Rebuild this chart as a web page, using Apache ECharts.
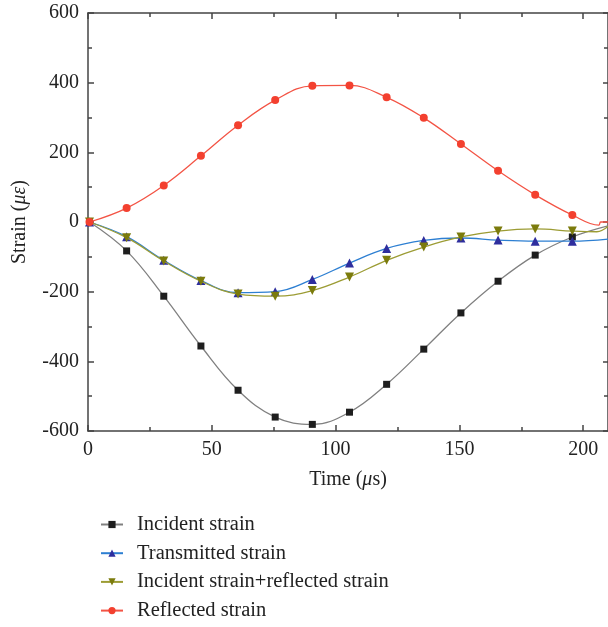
<!DOCTYPE html>
<html><head><meta charset="utf-8">
<script src="https://cdn.jsdelivr.net/npm/echarts@6/dist/echarts.min.js"></script>
<style>html,body{margin:0;padding:0;background:#fff}#c{width:608px;height:627px}</style>
</head><body><div id="c"></div>
<script>
const times = [0.6, 15.6, 30.6, 45.6, 60.6, 75.6, 90.6, 105.6, 120.6, 135.6, 150.6, 165.6, 180.6, 195.6];
const incident = [0, -83, -213, -356, -483, -560, -581, -546, -466, -365, -261, -170, -95, -43];
const transmitted = [0, -42, -110, -168, -203, -200, -165, -118, -76, -53, -46, -52, -55, -55];
const incRef = [0, -45, -112, -170, -207, -213, -197, -158, -110, -72, -43, -26, -20, -26];
const reflected = [0, 40, 105, 190, 278, 350, 391, 392, 358, 299, 224, 147, 78, 20];
// tail segments beyond last marker (no marker drawn)
const incidentTail = [[210, -11]];
const transmittedTail = [[210, -49]];
const incRefTail = [[205.5, -28], [210, -13]];
const reflectedTail = [[206.3, -9], [207, 0], [210, 0]];
const xMajor = [0, 50, 100, 150, 200];
const xMinor = [25, 75, 125, 175];
const names = ['Incident strain', 'Transmitted strain', 'Incident strain+reflected strain', 'Reflected strain'];

function build(vals, tail) {
  const d = times.map((t, i) => [t, vals[i]]);
  tail.forEach(p => d.push({ value: p, symbol: 'none' }));
  return d;
}
const font = 'Liberation Serif';
const fs = 20;
const axisCol = '#444';
const chart = echarts.init(document.getElementById('c'));
const baseX = { type: 'value', min: 0, max: 210, splitLine: { show: false } };
const baseY = { type: 'value', min: -600, max: 600, interval: 200, splitLine: { show: false } };
const tickStyle = { color: axisCol, width: 1.5 };
chart.setOption({
  animation: false,
  grid: { left: 88, right: -1, top: 13, bottom: 196, containLabel: false },
  legend: {
    orient: 'vertical', left: 100, top: 514, height: 113, padding: 0,
    itemWidth: 22, itemHeight: 9, itemGap: 7.7,
    textStyle: { fontFamily: font, fontSize: 20.5, color: '#222', lineHeight: 20, padding: [0, 0, 0, 9] },
    data: names
  },
  xAxis: [
    Object.assign({}, baseX, {
      position: 'bottom',
      axisLine: { show: true, onZero: false, lineStyle: tickStyle },
      axisTick: { show: true, inside: true, length: 6, customValues: xMajor, lineStyle: tickStyle },
      axisLabel: { customValues: xMajor, fontFamily: font, fontSize: fs, color: '#222', margin: 9 },
      name: 'Time ({i|μ}s)', nameLocation: 'middle', nameGap: 39,
      nameTextStyle: { fontFamily: font, fontSize: fs, color: '#222', rich: { i: { fontFamily: font, fontStyle: 'italic', fontSize: fs, color: '#222' } } }
    }),
    Object.assign({}, baseX, {
      position: 'bottom', axisLine: { show: false, onZero: false },
      axisTick: { show: true, inside: true, length: 4, customValues: xMinor, lineStyle: tickStyle },
      axisLabel: { show: false }
    }),
    Object.assign({}, baseX, {
      position: 'top',
      axisLine: { show: true, onZero: false, lineStyle: tickStyle },
      axisTick: { show: true, inside: true, length: 6, customValues: xMajor, lineStyle: tickStyle },
      axisLabel: { show: false }
    }),
    Object.assign({}, baseX, {
      position: 'top', axisLine: { show: false, onZero: false },
      axisTick: { show: true, inside: true, length: 4, customValues: xMinor, lineStyle: tickStyle },
      axisLabel: { show: false }
    })
  ],
  yAxis: [
    Object.assign({}, baseY, {
      position: 'left',
      axisLine: { show: true, onZero: false, lineStyle: tickStyle },
      axisTick: { show: true, inside: true, length: 6, lineStyle: tickStyle },
      minorTick: { show: true, splitNumber: 2, length: 4, lineStyle: tickStyle },
      axisLabel: { fontFamily: font, fontSize: fs, color: '#222', margin: 9 },
      name: 'Strain ({i|με})', nameLocation: 'middle', nameGap: 58, nameRotate: 90,
      nameTextStyle: { fontFamily: font, fontSize: fs, color: '#222', rich: { i: { fontFamily: font, fontStyle: 'italic', fontSize: fs, color: '#222' } } }
    }),
    Object.assign({}, baseY, {
      position: 'right',
      axisLine: { show: true, onZero: false, lineStyle: tickStyle },
      axisTick: { show: true, inside: true, length: 5, lineStyle: tickStyle },
      minorTick: { show: true, splitNumber: 2, length: 4, lineStyle: tickStyle },
      axisLabel: { show: false }
    })
  ],
  series: [
    { name: names[0], type: 'line', smooth: 0.4, data: build(incident, incidentTail), symbol: 'rect', symbolSize: 7,
      itemStyle: { color: '#1e1e1e' }, lineStyle: { color: '#808080', width: 1.3 }, z: 2 },
    { name: names[1], type: 'line', smooth: 0.4, data: build(transmitted, transmittedTail), symbol: 'triangle', symbolSize: 9,
      itemStyle: { color: '#2e2e9e' }, lineStyle: { color: '#2d7fd2', width: 1.3 }, z: 3 },
    { name: names[2], type: 'line', smooth: 0.4, data: build(incRef, incRefTail), symbol: 'triangle', symbolRotate: 180, symbolSize: 9,
      itemStyle: { color: '#7b7b0c' }, lineStyle: { color: '#9c9c34', width: 1.3 }, z: 4 },
    { name: names[3], type: 'line', smooth: 0.4, data: build(reflected, reflectedTail), symbol: 'circle', symbolSize: 8,
      itemStyle: { color: '#f3402f' }, lineStyle: { color: '#f35445', width: 1.3 }, z: 5 }
  ]
});
</script></body></html>
